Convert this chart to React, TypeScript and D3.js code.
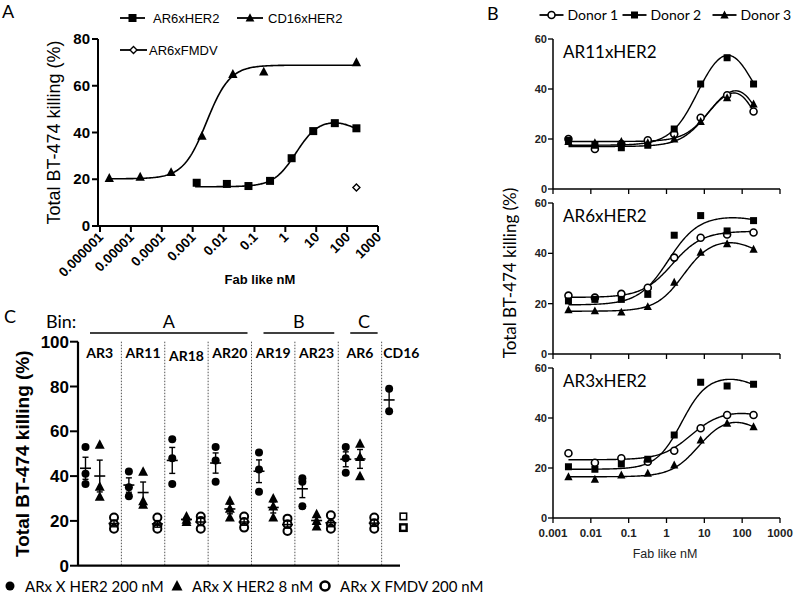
import React from 'react';
import * as d3 from 'd3';

// ---------- Panel A data ----------
const aCd16X = [2e-6, 2e-5, 2e-4, 2e-3, 2e-2, 2e-1, 200];
const aCd16Y = [20.5, 21, 23, 38.5, 65, 66, 70];
const aAr6X = [0.00135, 0.0128, 0.064, 0.32, 1.6, 8, 40, 200];
const aAr6Y = [18.5, 18, 17.1, 19.3, 29, 40.6, 44, 41.8];
const aFmdvX = [200];
const aFmdvY = [16.5];
// fit params: [bottom, top, logEC50, hill, end, logIC50, hill2]
const aCd16Fit = [20.2, 68.8, -2.55, 1.15, 68.8, 3, 1];
const aAr6Fit = [16.8, 46, 0.35, 1.2, 36, 2.4, 1.2];
const aXTicks = [1e-6, 1e-5, 1e-4, 1e-3, 1e-2, 1e-1, 1, 10, 100, 1000];
const aXTickLabels = ['0.000001', '0.00001', '0.0001', '0.001', '0.01', '0.1', '1', '10', '100', '1000'];
const aYTicks = [0, 20, 40, 60, 80];

// ---------- Panel B data ----------
const bDoses = [0.00256, 0.0128, 0.064, 0.32, 1.6, 8, 40, 200];
const bTitles = ['AR11xHER2', 'AR6xHER2', 'AR3xHER2'];
const bDonors = ['Donor 1', 'Donor 2', 'Donor 3'];
const bAr11 = [
  [20, 16, 18, 19.5, 22, 28.5, 37.5, 31],
  [19.5, 17.5, 16.5, 17.5, 24, 42, 52.5, 42],
  [19, 18.5, 19, 18.5, 20, 27, 36.5, 34],
];
const bAr6 = [
  [23.2, 22.4, 23.9, 26.3, 38.3, 46.2, 47.5, 48.3],
  [21.1, 21.7, 21.7, 23.7, 47.2, 55, 48.9, 53],
  [17.5, 17.1, 16.6, 18.8, 28.5, 40.4, 43.8, 41.6],
];
const bAr3 = [
  [25.9, 22.1, 23.9, 22.5, 26.9, 35.9, 41.2, 41.2],
  [20.5, 19.5, 21.6, 23.5, 33.2, 54.3, 52.8, 53.5],
  [16.5, 15.5, 17.2, 17.9, 21.2, 31.2, 37.9, 36.5],
];
const bAr11Fit = [
  [17, 44, 1.1, 1.2, 20, 2.3, 2],
  [17.5, 62, 0.85, 1.2, 30, 2.2, 1.5],
  [19, 44, 1.15, 1.3, 22, 2.35, 2],
];
const bAr6Fit = [
  [22.5, 48.8, 0.15, 1.1, 48.8, 3, 1],
  [19.5, 55, 0.05, 1.1, 52, 2.3, 1.5],
  [17, 46, 0.45, 1.2, 38, 2.3, 1.5],
];
const bAr3Fit = [
  [23.3, 43, 0.65, 1.1, 38, 2.6, 1.5],
  [19.5, 57, 0.4, 1.3, 50, 2.3, 1.5],
  [16.5, 41, 0.85, 1.2, 31, 2.4, 1.5],
];
const bXTicks = [0.001, 0.01, 0.1, 1, 10, 100, 1000];
const bXTickLabels = ['0.001', '0.01', '0.1', '1', '10', '100', '1000'];
const bYTicks = [0, 20, 40, 60];

// ---------- Panel C data ----------
const cCategories = ['AR3', 'AR11', 'AR18', 'AR20', 'AR19', 'AR23', 'AR6', 'CD16'];
const cSeries = ['ARx X HER2 200 nM', 'ARx X HER2 8 nM', 'ARx X FMDV 200 nM'];
const cHer2High = [[53, 41, 36.5], [42, 35, 31], [56.5, 48, 36.5], [53, 47, 37.5], [50.5, 43, 33], [39, 37.5, 26.5], [53, 48, 41.5], [79, 69]];
const cHer2Low = [[54, 35.3, 30.8], [42, 28.8, 27.2], [22, 20.5, 19.5], [29, 25.5, 21.5], [30, 26.5, 21.5], [23, 20, 17.5], [54.5, 48.5, 40], []];
const cFmdv = [[21.5, 18.5, 16.5], [21.5, 18, 16.5], [22, 20, 16.5], [22, 19.5, 17], [21, 18.5, 15.5], [22.5, 18.5, 16.5], [21.5, 19, 16.5], []];
const cCd16Ctrl = [22, 17];
const cBins = [
  { label: 'A', from: 0, to: 3 },
  { label: 'B', from: 4, to: 5 },
  { label: 'C', from: 6, to: 6 },
];
const cYTicks = [0, 20, 40, 60, 80, 100];

const SANS = "'Liberation Sans', Arial, sans-serif";
const CAL = "Lato, 'Open Sans', sans-serif";

function fitY(p: number[], lx: number) {
  const [b, t, ec, h, e, ic, h2] = p;
  const s1 = 1 / (1 + Math.pow(10, (ec - lx) * h));
  const s2 = 1 / (1 + Math.pow(10, (ic - lx) * h2));
  return b + (t - b) * s1 + (e - t) * s2;
}

function Marker({ shape, x, y, s, sw }: { shape: string; x: number; y: number; s: number; sw?: number }) {
  if (shape === 'square') return <rect x={x - s / 2} y={y - s / 2} width={s} height={s} fill="#000" />;
  if (shape === 'osquare') return <rect x={x - s / 2} y={y - s / 2} width={s} height={s} fill="#fff" stroke="#000" strokeWidth={sw ?? 1.6} />;
  if (shape === 'triangle') {
    const pts = `${x},${y - s * 0.6} ${x - s * 0.55},${y + s * 0.45} ${x + s * 0.55},${y + s * 0.45}`;
    return <polygon points={pts} fill="#000" />;
  }
  if (shape === 'circle') return <circle cx={x} cy={y} r={s / 2} fill="#000" />;
  if (shape === 'ocircle') return <circle cx={x} cy={y} r={s / 2} fill="#fff" stroke="#000" strokeWidth={sw ?? 1.6} />;
  if (shape === 'diamond') {
    const r = s / 2;
    return <polygon points={`${x},${y - r} ${x + r},${y} ${x},${y + r} ${x - r},${y}`} fill="#fff" stroke="#000" strokeWidth={1.4} />;
  }
  return null;
}

function curvePath(p: number[], x0: number, x1: number, xs: any, ys: any) {
  const l0 = Math.log10(x0), l1 = Math.log10(x1);
  const pts = d3.range(l0, l1 + 1e-9, (l1 - l0) / 200).map((lx) => [xs(Math.pow(10, lx)), ys(fitY(p, lx))] as [number, number]);
  return d3.line()(pts) || '';
}

function PanelA() {
  const xs = d3.scaleLog().domain([1e-6, 1000]).range([100, 378]);
  const ys = d3.scaleLinear().domain([0, 80]).range([226, 39]);
  const ax = 98;
  return (
    <g>
      <text x={2} y={18} fontFamily={CAL} fontSize={18}>A</text>
      {/* legend */}
      <line x1={120} x2={145} y1={18} y2={18} stroke="#000" strokeWidth={1.8} />
      <Marker shape="square" x={132.5} y={18} s={8} />
      <text x={153} y={23} fontFamily={SANS} fontSize={13}>AR6xHER2</text>
      <line x1={237} x2={263} y1={18} y2={18} stroke="#000" strokeWidth={1.8} />
      <Marker shape="triangle" x={250} y={18} s={8} />
      <text x={268} y={23} fontFamily={SANS} fontSize={13}>CD16xHER2</text>
      <line x1={120} x2={147} y1={50} y2={50} stroke="#000" strokeWidth={1.8} />
      <Marker shape="diamond" x={133.5} y={50} s={7} />
      <text x={149} y={55} fontFamily={SANS} fontSize={13}>AR6xFMDV</text>
      {/* axes */}
      <line x1={ax} x2={ax} y1={ys(80)} y2={ys(0)} stroke="#000" strokeWidth={2} />
      <line x1={ax} x2={378} y1={ys(0)} y2={ys(0)} stroke="#000" strokeWidth={2} />
      {aYTicks.map((t) => (
        <g key={t}>
          <line x1={ax - 6} x2={ax} y1={ys(t)} y2={ys(t)} stroke="#000" strokeWidth={2} />
          <text x={ax - 8} y={ys(t) + 5} textAnchor="end" fontFamily={SANS} fontWeight="bold" fontSize={15}>{t}</text>
        </g>
      ))}
      {aXTicks.map((t, i) => (
        <g key={t}>
          <line x1={xs(t)} x2={xs(t)} y1={ys(0)} y2={ys(0) + 6} stroke="#000" strokeWidth={2} />
          <text transform={`translate(${xs(t) + 4},${ys(0) + 12}) rotate(-45)`} textAnchor="end" fontFamily={SANS} fontWeight="bold" fontSize={13.5}>{aXTickLabels[i]}</text>
        </g>
      ))}
      <text x={260} y={284} textAnchor="middle" fontFamily={SANS} fontWeight="bold" fontSize={13}>Fab like nM</text>
      <text transform={`translate(60,${(39 + 226) / 2}) rotate(-90)`} textAnchor="middle" fontFamily={SANS} fontSize={18}>Total BT-474 killing (%)</text>
      {/* curves */}
      <path d={curvePath(aCd16Fit, aCd16X[0], aCd16X[aCd16X.length - 1], xs, ys)} fill="none" stroke="#000" strokeWidth={1.6} />
      <path d={curvePath(aAr6Fit, 0.0012, aAr6X[aAr6X.length - 1], xs, ys)} fill="none" stroke="#000" strokeWidth={1.6} />
      {aCd16X.map((x, i) => <Marker key={'c' + i} shape="triangle" x={xs(x)} y={ys(aCd16Y[i])} s={8.5} />)}
      {aAr6X.map((x, i) => <Marker key={'s' + i} shape="square" x={xs(x)} y={ys(aAr6Y[i])} s={8} />)}
      {aFmdvX.map((x, i) => <Marker key={'d' + i} shape="diamond" x={xs(x)} y={ys(aFmdvY[i])} s={7} />)}
    </g>
  );
}

function PanelB() {
  const xs = d3.scaleLog().domain([0.001, 1000]).range([553, 780]);
  const ranges: [number, number][] = [[189, 39], [354, 203], [518, 368]];
  const datas = [bAr11, bAr6, bAr3];
  const fits = [bAr11Fit, bAr6Fit, bAr3Fit];
  const shapes = ['ocircle', 'square', 'triangle'];
  const sizes = [7, 7, 7.5];
  const legendX = [551.5, 634.5, 724.5];
  return (
    <g>
      <text x={487} y={20} fontFamily={CAL} fontSize={18}>B</text>
      {bDonors.map((d, i) => (
        <g key={d}>
          <line x1={legendX[i] - 12} x2={legendX[i] + 12} y1={15} y2={15} stroke="#000" strokeWidth={1.8} />
          <Marker shape={shapes[i]} x={legendX[i]} y={15} s={sizes[i]} />
          <text x={legendX[i] + 16} y={20} fontFamily={CAL} fontSize={14}>{d}</text>
        </g>
      ))}
      {ranges.map((r, pi) => {
        const ys = d3.scaleLinear().domain([0, 60]).range(r);
        return (
          <g key={pi}>
            <line x1={553} x2={553} y1={ys(60)} y2={ys(0)} stroke="#000" strokeWidth={1.5} />
            <line x1={553} x2={780} y1={ys(0)} y2={ys(0)} stroke="#000" strokeWidth={1.5} />
            {bYTicks.map((t) => (
              <g key={t}>
                <line x1={548} x2={553} y1={ys(t)} y2={ys(t)} stroke="#000" strokeWidth={1.3} />
                <text x={547} y={ys(t) + 4} textAnchor="end" fontFamily={SANS} fontWeight="bold" fontSize={11} fill="#222">{t}</text>
              </g>
            ))}
            {bXTicks.map((t, i) => (
              <g key={t}>
                <line x1={xs(t)} x2={xs(t)} y1={ys(0)} y2={ys(0) + 5} stroke="#000" strokeWidth={1.3} />
                {pi === 2 && (
                  <text x={xs(t)} y={ys(0) + 19} textAnchor="middle" fontFamily={SANS} fontWeight="bold" fontSize={11.5} fill="#222">{bXTickLabels[i]}</text>
                )}
              </g>
            ))}
            <text x={563} y={ys(60) + 19} fontFamily={CAL} fontSize={17}>{bTitles[pi]}</text>
            {fits[pi].map((p, di) => (
              <path key={'f' + di} d={curvePath(p, bDoses[0], bDoses[bDoses.length - 1], xs, ys)} fill="none" stroke="#000" strokeWidth={1.4} />
            ))}
            {datas[pi].map((arr, di) =>
              arr.map((v, k) => <Marker key={di + '-' + k} shape={shapes[di]} x={xs(bDoses[k])} y={ys(v)} s={sizes[di]} />)
            )}
          </g>
        );
      })}
      <text x={665} y={558} textAnchor="middle" fontFamily={SANS} fontSize={12.5} fill="#222">Fab like nM</text>
      <text transform="translate(516,273) rotate(-90)" textAnchor="middle" fontFamily={CAL} fontSize={17}>Total BT-474 killing (%)</text>
    </g>
  );
}

function meanSem(v: number[]) {
  const m = d3.mean(v) as number;
  const sd = v.length > 1 ? (d3.deviation(v) as number) : 0;
  return [m, sd / Math.sqrt(v.length)];
}

function PanelC() {
  const xb = d3.scaleBand().domain(cCategories).range([78, 425]);
  const xo = d3.scalePoint().domain(cSeries).range([7.5, 36]);
  const ys = d3.scaleLinear().domain([0, 100]).range([565.7, 341.7]);
  const groups = [cHer2High, cHer2Low, cFmdv];
  const shapes = ['circle', 'triangle', 'ocircle'];
  const sizes = [8, 9, 8];
  const legX = [10, 177, 325];
  return (
    <g>
      <text x={4} y={323} fontFamily={CAL} fontSize={18}>C</text>
      <text x={46} y={328} fontFamily={CAL} fontSize={18}>Bin:</text>
      {cBins.map((b) => {
        const x0 = (xb(cCategories[b.from]) as number) + 12;
        const x1 = (xb(cCategories[b.to]) as number) + xb.bandwidth() - 4;
        return (
          <g key={b.label}>
            <line x1={x0} x2={x1} y1={333} y2={333} stroke="#000" strokeWidth={1.5} />
            <text x={(x0 + x1) / 2} y={328} textAnchor="middle" fontFamily={CAL} fontSize={18}>{b.label}</text>
          </g>
        );
      })}
      {cCategories.slice(1).map((c) => (
        <line key={c} x1={xb(c)} x2={xb(c)} y1={ys(100)} y2={ys(0)} stroke="#555" strokeWidth={1} strokeDasharray="1.5,1.5" />
      ))}
      {cCategories.map((c, i) => (
        <text key={c} x={(xb(c) as number) + xb.bandwidth() / 2 + (i === 7 ? -2 : 0)} y={i === 2 ? 361 : 358} textAnchor="middle" fontFamily={CAL} fontWeight="bold" fontSize={14}>{c}</text>
      ))}
      <line x1={78} x2={78} y1={ys(100)} y2={ys(0)} stroke="#000" strokeWidth={2.2} />
      <line x1={78} x2={400} y1={ys(0)} y2={ys(0)} stroke="#000" strokeWidth={2.2} />
      {cYTicks.map((t) => (
        <g key={t}>
          <line x1={70} x2={78} y1={ys(t)} y2={ys(t)} stroke="#000" strokeWidth={2} />
          <text x={69} y={ys(t) + 6} textAnchor="end" fontFamily={SANS} fontWeight="bold" fontSize={17}>{t}</text>
        </g>
      ))}
      <text transform={`translate(29,${(341.7 + 565.7) / 2}) rotate(-90)`} textAnchor="middle" fontFamily={SANS} fontWeight="bold" fontSize={19}>Total BT-474 killing (%)</text>
      {groups.map((g, si) =>
        g.map((vals, ci) => {
          if (!vals.length) return null;
          const cx = (xb(cCategories[ci]) as number) + (xo(cSeries[si]) as number);
          const [m, se] = meanSem(vals);
          return (
            <g key={si + '-' + ci}>
              {vals.map((v, k) => <Marker key={k} shape={shapes[si]} x={cx} y={ys(v)} s={sizes[si]} sw={2} />)}
              <line x1={cx - 5.5} x2={cx + 5.5} y1={ys(m)} y2={ys(m)} stroke="#000" strokeWidth={1.6} />
              <line x1={cx} x2={cx} y1={ys(m + se)} y2={ys(m - se)} stroke="#000" strokeWidth={1.4} />
              <line x1={cx - 3} x2={cx + 3} y1={ys(m + se)} y2={ys(m + se)} stroke="#000" strokeWidth={1.4} />
              <line x1={cx - 3} x2={cx + 3} y1={ys(m - se)} y2={ys(m - se)} stroke="#000" strokeWidth={1.4} />
            </g>
          );
        })
      )}
      {cCd16Ctrl.map((v, k) => (
        <Marker key={'q' + k} shape="osquare" x={(xb('CD16') as number) + (xo(cSeries[1]) as number)} y={ys(v)} s={6.5} sw={k === 1 ? 2.4 : 1.6} />
      ))}
      {cSeries.map((s, i) => (
        <g key={s}>
          <Marker shape={shapes[i]} x={legX[i]} y={586} s={i === 1 ? 10 : 9} sw={2.6} />
          <text x={legX[i] + 15} y={592} fontFamily={CAL} fontSize={15}>{s}</text>
        </g>
      ))}
    </g>
  );
}

export default function App() {
  return (
    <svg width={800} height={597} style={{ position: 'absolute', left: 0, top: 0, background: '#fff' }}>
      <rect width={800} height={597} fill="#fff" />
      <PanelA />
      <PanelB />
      <PanelC />
    </svg>
  );
}
